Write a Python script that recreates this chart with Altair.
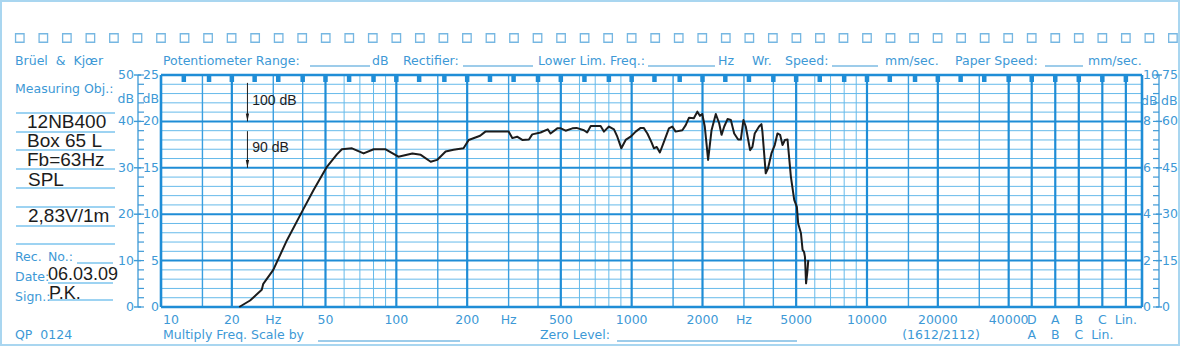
import altair as alt
import pandas as pd

# ---------------- data read from the recording ----------------
FREQ_HZ = [21.5, 23.9, 26.8, 27.2, 30.0, 34.3, 39.7, 44.5, 50.7, 55.9,
           58.7, 64.8, 72.6, 80.1, 89.7, 102, 117, 127, 140, 149,
           162, 175, 193, 203, 227, 239, 300, 311, 326, 343,
           366, 378, 410, 440, 452, 483, 500, 524, 560, 583,
           627, 647, 670, 738, 762, 801, 841, 869, 904, 943,
           990, 1040, 1092, 1125, 1166, 1212, 1244, 1278, 1318, 1371,
           1440, 1488, 1537, 1642, 1697, 1753, 1837, 1902, 1950, 1995,
           2045, 2113, 2185, 2278, 2354, 2410, 2474, 2555, 2639, 2727,
           2834, 2910, 2985, 3054, 3186, 3260, 3334, 3478, 3560, 3594,
           3713, 3798, 3926, 4055, 4164, 4273, 4376, 4478, 4595, 4748,
           4906, 5035, 5100, 5240, 5325, 5400, 5450, 5510, 5580, 5630]
LEVEL_DB = [60.0, 61.4, 63.7, 65.0, 68.0, 74.4, 80.5, 85.2, 90.2, 92.9,
            94.0, 94.2, 93.1, 94.0, 94.0, 92.4, 93.1, 92.8, 91.3, 91.7,
            93.5, 93.9, 94.2, 96.0, 96.9, 97.8, 97.8, 96.4, 96.7, 96.0,
            96.1, 97.2, 97.6, 98.3, 97.4, 98.5, 98.5, 98.0, 98.5, 98.6,
            98.1, 97.6, 99.0, 99.0, 97.8, 98.9, 98.3, 96.7, 94.2, 96.0,
            96.7, 97.8, 98.6, 98.6, 97.4, 95.6, 94.2, 94.5, 93.3, 95.6,
            98.5, 98.9, 97.8, 98.1, 99.2, 100.8, 100.7, 102.1, 101.2, 101.6,
            98.9, 91.7, 98.1, 101.6, 99.6, 97.1, 98.9, 100.5, 100.3, 97.4,
            96.1, 96.1, 100.3, 98.9, 93.8, 94.5, 97.4, 98.9, 99.4, 97.8,
            88.8, 89.9, 93.1, 94.9, 97.4, 97.1, 94.9, 96.0, 96.1, 88.1,
            83.1, 81.6, 78.0, 75.9, 72.3, 71.9, 70.8, 65.1, 67.6, 70.1]

# recording-paper grid
THICK_F = [20, 50, 100, 200, 500, 1000, 2000, 5000, 10000, 20000, 40000]
MEDIUM_F = [15, 30, 40, 150, 300, 400, 1500, 3000, 4000, 15000, 30000]
THIN_F = [60, 70, 80, 90, 600, 700, 800, 900, 6000, 7000, 8000, 9000]
COLUMN_DEC = [4.7, 4.8, 4.9, 5.0, 5.1]          # D, A, B, C, Lin. columns
THIRD_OCT_F = [12.5, 16, 20, 25, 31.5, 40, 50, 63, 80, 100, 125, 160, 200, 250,
               315, 400, 500, 630, 800, 1000, 1250, 1600, 2000, 2500, 3150, 4000,
               5000, 6300, 8000, 10000, 12500, 16000, 20000, 25000, 31500, 40000]
MAJOR_DB = [60, 70, 80, 90, 100, 110]
MINOR_DB = [v for v in range(62, 110, 2) if v % 10 != 0]
ALL_DB = list(range(60, 111, 2))

FREQ_LABELS = ["20", "50", "100", "200", "500", "1000", "2000", "5000", "10000", "20000", "40000"]
FREQ_LABEL_F = [20, 50, 100, 200, 500, 1000, 2000, 5000, 10000, 20000, 40000]
HZ_LABEL_F = [30, 300, 3000]
COL_LABELS_1 = ["D", "A", "B", "C", "Lin."]
COL_LABELS_2 = ["A", "B", "C", "Lin."]

LEFT_OUTER = ["0", "10", "20", "30", "40", "50"]
LEFT_INNER = ["0", "5", "10", "15", "20", "25"]
RIGHT_INNER = ["0", "2", "4", "6", "8", "10"]
RIGHT_OUTER = ["0", "15", "30", "45", "60", "75"]

ARROW_F = [23.3, 23.3]
ARROW_TOP = [108.3, 97.9]
ARROW_TIP = [100, 90]
ARROW_TEXT = ["100 dB", "90 dB"]
ARROW_TEXT_F = [24.4, 24.4]
ARROW_TEXT_DB = [104.5, 94.3]

# ---------------- layout / styles ----------------
PL, PT, W, H = 161, 75, 981, 232
DEC_MIN, DEC_MAX = 1.0, 5.1686
BLUE = "#1f8dd6"
BLUE_MED = "#3b9fe0"
BLUE_LIGHT = "#66baea"
TEXT_BLUE = "#3d99d6"
FORM_LINE = "#7cc4ee"
FRAME = "#a9d6f0"
INK = "#1c1c1c"
SANS = "DejaVu Sans"
ARIAL = "Liberation Sans"
NB = "\u00a0"

xs = alt.Scale(domain=[DEC_MIN, DEC_MAX], nice=False, zero=False)
ys = alt.Scale(domain=[60, 110], nice=False, zero=False)
LOGX = "log(datum.f)/LN10"


def X(field="d"):
    return alt.X(f"{field}:Q", scale=xs, axis=None)


def Y(field="db"):
    return alt.Y(f"{field}:Q", scale=ys, axis=None)


def vlines_f(freqs, color, width):
    return (alt.Chart(pd.DataFrame({"f": freqs})).transform_calculate(d=LOGX)
            .mark_rule(color=color, strokeWidth=width).encode(x=X()))


def hlines(dbs, color, width):
    return alt.Chart(pd.DataFrame({"db": dbs})).mark_rule(color=color, strokeWidth=width).encode(y=Y())


def px_text(rows, align="left", font=SANS, size=12.5, color=TEXT_BLUE):
    df = pd.DataFrame(rows, columns=["t", "px", "py"])
    return (alt.Chart(df)
            .transform_calculate(x=f"datum.px - {PL}", y=f"datum.py - {PT}")
            .mark_text(align=align, baseline="middle", font=font, fontSize=size, color=color)
            .encode(x=alt.X("x:Q", scale=None, axis=None), y=alt.Y("y:Q", scale=None, axis=None), text="t:N"))


def px_hrules(rows, color=FORM_LINE, width=1.3):
    df = pd.DataFrame(rows, columns=["x1", "x2", "yy"])
    return (alt.Chart(df)
            .transform_calculate(a=f"datum.x1 - {PL}", b=f"datum.x2 - {PL}", c=f"datum.yy - {PT}")
            .mark_rule(color=color, strokeWidth=width)
            .encode(x=alt.X("a:Q", scale=None, axis=None), x2="b:Q", y=alt.Y("c:Q", scale=None, axis=None)))


layers = []

# page frame
frame = (alt.Chart(pd.DataFrame({"x1": [1], "x2": [1179], "y1": [1], "y2": [345]}))
         .transform_calculate(a=f"datum.x1 - {PL}", b=f"datum.x2 - {PL}", c=f"datum.y1 - {PT}", e=f"datum.y2 - {PT}")
         .mark_rect(filled=False, stroke=FRAME, strokeWidth=2)
         .encode(x=alt.X("a:Q", scale=None, axis=None), x2="b:Q",
                 y=alt.Y("c:Q", scale=None, axis=None), y2="e:Q"))
layers.append(frame)

# sprocket holes
SPROCKET_DEC = [round(0.4 + 0.1 * k, 2) for k in range(50)]
layers.append(alt.Chart(pd.DataFrame({"d": SPROCKET_DEC}))
              .mark_point(shape="square", filled=False, size=72, color=TEXT_BLUE, strokeWidth=1.3)
              .encode(x=X(), y=alt.value(38 - PT)))

# grid
layers.append(hlines(MINOR_DB, BLUE_LIGHT, 1))
layers.append(vlines_f(THIN_F, BLUE_LIGHT, 1))
layers.append(vlines_f(MEDIUM_F, BLUE_MED, 1.4))
layers.append(hlines(MAJOR_DB[1:-1], BLUE, 2))
layers.append(vlines_f(THICK_F, BLUE, 2.2))
layers.append(alt.Chart(pd.DataFrame({"d": COLUMN_DEC})).mark_rule(color=BLUE, strokeWidth=2.2).encode(x=X()))
# plot border
layers.append(hlines([60, 110], BLUE, 2.6))
layers.append(alt.Chart(pd.DataFrame({"d": [DEC_MIN, DEC_MAX]})).mark_rule(color=BLUE, strokeWidth=2.6).encode(x=X()))
# third-octave markers along the top
layers.append(alt.Chart(pd.DataFrame({"f": THIRD_OCT_F})).transform_calculate(d=LOGX)
              .mark_rule(color=BLUE, strokeWidth=4.5).encode(x=X(), y=alt.value(0), y2=alt.value(7)))
layers.append(alt.Chart(pd.DataFrame({"d": COLUMN_DEC}))
              .mark_rule(color=BLUE, strokeWidth=4.5).encode(x=X(), y=alt.value(0), y2=alt.value(7)))

# left and right level scales
LAX, RAX = 138 - PL, 1159 - PL
layers.append(alt.Chart(pd.DataFrame({"db": [60]})).mark_rule(color=TEXT_BLUE, strokeWidth=1.3)
              .encode(x=alt.value(LAX), y=alt.value(0), y2=alt.value(H)))
layers.append(alt.Chart(pd.DataFrame({"db": ALL_DB})).mark_rule(color=TEXT_BLUE, strokeWidth=1.2)
              .encode(x=alt.value(LAX), x2=alt.value(LAX + 6), y=Y()))
layers.append(alt.Chart(pd.DataFrame({"db": MAJOR_DB})).mark_rule(color=TEXT_BLUE, strokeWidth=1.4)
              .encode(x=alt.value(LAX - 4), x2=alt.value(LAX + 3), y=Y()))
layers.append(alt.Chart(pd.DataFrame({"db": [60]})).mark_rule(color=TEXT_BLUE, strokeWidth=1.3)
              .encode(x=alt.value(RAX), y=alt.value(0), y2=alt.value(H)))
layers.append(alt.Chart(pd.DataFrame({"db": ALL_DB})).mark_rule(color=TEXT_BLUE, strokeWidth=1.2)
              .encode(x=alt.value(RAX - 6), x2=alt.value(RAX), y=Y()))
layers.append(alt.Chart(pd.DataFrame({"db": MAJOR_DB})).mark_rule(color=TEXT_BLUE, strokeWidth=1.4)
              .encode(x=alt.value(RAX - 3), x2=alt.value(RAX + 3), y=Y()))


def scale_labels(labels, xpx, align):
    return (alt.Chart(pd.DataFrame({"t": labels, "db": MAJOR_DB}))
            .mark_text(align=align, baseline="middle", font=SANS, fontSize=12.5, color=TEXT_BLUE)
            .encode(x=alt.value(xpx - PL), y=Y(), text="t:N"))


layers.append(scale_labels(LEFT_OUTER, 134, "right"))
layers.append(scale_labels(LEFT_INNER, 159, "right"))
layers.append(scale_labels(RIGHT_INNER, 1143, "left"))
layers.append(scale_labels(RIGHT_OUTER, 1162, "left"))
layers.append(px_text([("dB", 134, 99), ("dB", 159, 99)], align="right"))
layers.append(px_text([("dB", 1141, 101), ("dB", 1161, 101)], align="left"))

# frequency labels
FY1, FY2 = 320 - PT, 335 - PT
layers.append(alt.Chart(pd.DataFrame({"f": [10], "t": ["10"]})).transform_calculate(d=LOGX)
              .mark_text(align="left", dx=2, baseline="middle", font=SANS, fontSize=12.5, color=TEXT_BLUE)
              .encode(x=X(), y=alt.value(FY1), text="t:N"))
layers.append(alt.Chart(pd.DataFrame({"f": FREQ_LABEL_F, "t": FREQ_LABELS})).transform_calculate(d=LOGX)
              .mark_text(align="center", baseline="middle", font=SANS, fontSize=12.5, color=TEXT_BLUE)
              .encode(x=X(), y=alt.value(FY1), text="t:N"))
layers.append(alt.Chart(pd.DataFrame({"f": HZ_LABEL_F, "t": ["Hz"] * 3})).transform_calculate(d=LOGX)
              .mark_text(align="center", baseline="middle", font=SANS, fontSize=12.5, color=TEXT_BLUE)
              .encode(x=X(), y=alt.value(FY1), text="t:N"))
layers.append(alt.Chart(pd.DataFrame({"d": COLUMN_DEC, "t": COL_LABELS_1}))
              .mark_text(align="center", baseline="middle", font=SANS, fontSize=12.5, color=TEXT_BLUE)
              .encode(x=X(), y=alt.value(FY1), text="t:N"))
layers.append(alt.Chart(pd.DataFrame({"d": COLUMN_DEC[:4], "t": COL_LABELS_2}))
              .mark_text(align="center", baseline="middle", font=SANS, fontSize=12.5, color=TEXT_BLUE)
              .encode(x=X(), y=alt.value(FY2), text="t:N"))

# form texts
layers.append(px_text([
    (f"Brüel{NB}{NB}&{NB}{NB}Kjœr", 15, 61), ("Potentiometer Range:", 163, 61), ("dB", 372, 61),
    ("Rectifier:", 403, 61), ("Lower Lim. Freq.:", 538, 61), ("Hz", 718, 61), ("Wr.", 752, 61),
    ("Speed:", 785, 61), ("mm/sec.", 885, 61), ("Paper Speed:", 955, 61), ("mm/sec.", 1088, 61),
    ("Measuring Obj.:", 15, 89), ("Rec.", 15, 257), ("No.:", 48, 257), ("Date:", 15, 277),
    ("Sign.:", 15, 297), (f"QP{NB}{NB}0124", 15, 335),
    ("Multiply Freq. Scale by", 163, 335), ("Zero Level:", 540, 335),
]))
layers.append(px_text([("(1612/2112)", 941, 335)], align="center"))
layers.append(px_hrules([(310, 370, 66), (463, 533, 66), (648, 715, 66), (832, 878, 66), (1045, 1083, 66),
                         (318, 460, 341), (617, 797, 341)], color=TEXT_BLUE, width=1.2))
layers.append(px_hrules([(16, 115, v) for v in [113, 132, 150, 169, 188, 207, 226, 244]]
                        + [(77, 113, 263), (48, 113, 283), (49, 113, 300)], color=FORM_LINE, width=1.4))
layers.append(px_text([
    ("12NB400", 27, 122), ("Box 65 L", 27, 141), ("Fb=63Hz", 27, 160), ("SPL", 28, 180),
    ("2,83V/1m", 28, 216),
], font=ARIAL, size=19, color=INK))
layers.append(px_text([("06.03.09", 48, 275), ("P.K.", 49, 294)], font=ARIAL, size=18, color=INK))

# reference arrows
arrows = pd.DataFrame({"f": ARROW_F, "top": ARROW_TOP, "db": ARROW_TIP})
layers.append(alt.Chart(arrows).transform_calculate(d=LOGX)
              .mark_rule(color=INK, strokeWidth=1).encode(x=X(), y=Y("top"), y2="db:Q"))
layers.append(alt.Chart(arrows).transform_calculate(d=LOGX)
              .mark_point(shape="M-0.55,-2.6L0.55,-2.6L0,0Z", filled=True, size=36, color=INK, opacity=1)
              .encode(x=X(), y=Y()))
layers.append(alt.Chart(pd.DataFrame({"f": ARROW_TEXT_F, "db": ARROW_TEXT_DB, "t": ARROW_TEXT}))
              .transform_calculate(d=LOGX)
              .mark_text(align="left", baseline="middle", font=ARIAL, fontSize=14, color=INK)
              .encode(x=X(), y=Y(), text="t:N"))

# measured curve
layers.append(alt.Chart(pd.DataFrame({"f": FREQ_HZ, "db": LEVEL_DB})).transform_calculate(d=LOGX)
              .mark_line(color=INK, strokeWidth=2, strokeJoin="round").encode(x=X(), y=Y()))

chart = (alt.layer(*layers)
         .properties(width=W, height=H, background="white",
                     autosize=alt.AutoSizeParams(type="none"),
                     padding={"left": PL, "top": PT, "right": 1181 - PL - W, "bottom": 347 - PT - H})
         .configure_view(strokeWidth=0))

chart.save("out.html", embed_options={"renderer": "svg", "actions": False})
